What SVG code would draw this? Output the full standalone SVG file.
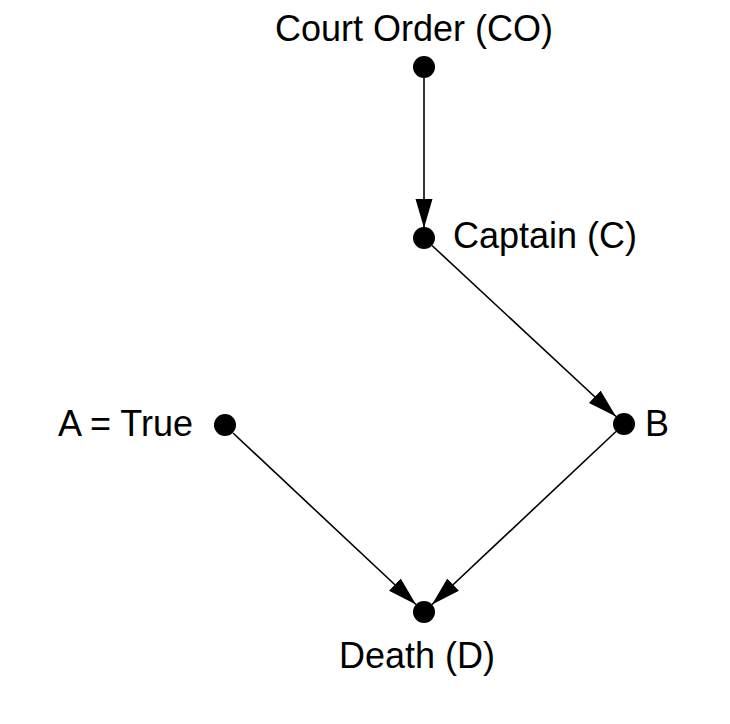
<svg xmlns="http://www.w3.org/2000/svg" width="730" height="724" viewBox="0 0 730 724">
<style>
.lbl{font-family:"Liberation Sans",Arial,sans-serif;font-size:36px;fill:#000}
.dot{fill:#000}
.edge{stroke:#000;stroke-width:1.6;fill:none;marker-end:url(#ah)}
</style>
<defs>
<marker id="ah" markerUnits="userSpaceOnUse" markerWidth="32" markerHeight="20" refX="29" refY="8.5" orient="auto">
<path d="M0,0 L29,8.5 L0,17 Z" fill="#000"/>
</marker>
</defs>
<rect width="730" height="724" fill="#fff"/>
<g id="connectors">
<line class="edge" x1="424" y1="78" x2="424" y2="228"/>
<line class="edge" x1="432" y1="245.5" x2="616" y2="416.5"/>
<line class="edge" x1="233" y1="433" x2="416" y2="604.5"/>
<line class="edge" x1="616" y1="431.5" x2="432" y2="604.5"/>
</g>
<g id="CO"><circle class="dot" cx="424" cy="67" r="11"/><text class="lbl" x="414" y="41" text-anchor="middle">Court Order (CO)</text></g>
<g id="C"><circle class="dot" cx="424" cy="238" r="11"/><text class="lbl" x="453" y="248">Captain (C)</text></g>
<g id="B"><circle class="dot" cx="624" cy="424" r="11"/><text class="lbl" x="645" y="436">B</text></g>
<g id="A"><circle class="dot" cx="225" cy="425" r="11"/><text class="lbl" x="193" y="436" text-anchor="end">A = True</text></g>
<g id="D"><circle class="dot" cx="424" cy="612" r="11"/><text class="lbl" x="417" y="668" text-anchor="middle">Death (D)</text></g>
</svg>
